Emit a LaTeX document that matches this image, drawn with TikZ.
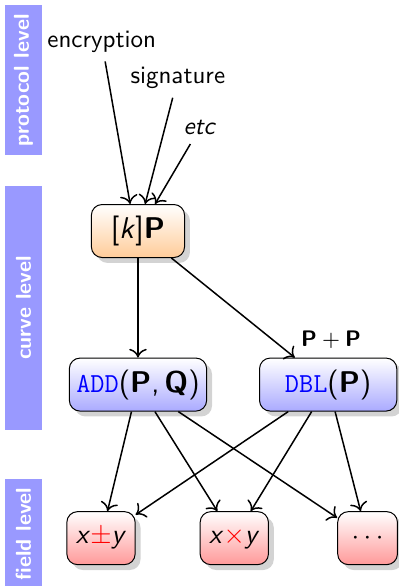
\documentclass[tikz,border=0pt]{standalone}
\usepackage{fontspec}
\usepackage{xcolor}
\definecolor{levelBar}{HTML}{9999FF}
\definecolor{mulBottom}{HTML}{FFCC99}
\definecolor{curveBottom}{HTML}{AAAAFF}
\definecolor{fieldBottom}{HTML}{FF9999}
\usepackage{tikz}
\usetikzlibrary{arrows.meta,positioning,shadows,calc}
\tikzset{
    levelbar/.style={
        fill=levelBar,
        rectangle,
        rotate=90,
        inner sep=0pt,
        minimum height=0.52cm,
        text=white,
        font=\fontsize{8.6}{10}\selectfont\bfseries\sffamily
    },
    opbox/.style={
        draw=black,
        rectangle,
        rounded corners=1.5mm,
        align=center,
        inner sep=2pt,
        minimum height=0.745cm,
        top color=white,
        drop shadow={opacity=0.35},
        font=\large\sffamily
    },
    mulbox/.style={
        opbox,
        bottom color=mulBottom,
        minimum width=1.31cm
    },
    curvebox/.style={
        opbox,
        bottom color=curveBottom,
        minimum width=1.93cm
    },
    fieldbox/.style={
        opbox,
        bottom color=fieldBottom,
        minimum width=0.96cm,
        font=\fontsize{11}{13}\selectfont\sffamily
    },
    arrow/.style={
        ->,
        >={To[length=3.5pt,width=7pt]},
        semithick,
        color=black
    },
    proto/.style={
        font=\sffamily
    }
}
\newcommand{\opname}[1]{{\fontsize{11}{13}\selectfont\texttt{\color{blue}#1}}}

\begin{document}
\begin{tikzpicture}
    \useasboundingbox (-1.94,3.248) rectangle (3.656,-4.991);

    % Level bars on the left
    \node[levelbar, minimum width=2.11cm] (protobar) at (-1.61,2.12) {protocol level};
    \node[levelbar, minimum width=3.44cm] (curvebar) at (-1.61,-1.08) {curve level};
    \node[levelbar, minimum width=1.56cm] (fieldbar) at (-1.61,-4.26) {field level};

    % Scalar multiplication
    \node[mulbox] (kp) at (0,0) {[\textit{k}]\textbf{P}};

    % Protocols
    \node[proto] (enc) at (-0.51,2.66) {encryption};
    \node[proto] (sig) at (0.56,2.15) {signature};
    \node[proto] (etc) at (0.87,1.45) {\textit{etc}};

    % Curve operations
    \node[curvebox, below=1.4cm of kp] (add) {\opname{ADD}(\textbf{P},\,\textbf{Q})};
    \node[curvebox, right=0.73cm of add] (dbl) {\opname{DBL}(\textbf{P})};
    \node[font=\small\sffamily, above=0pt of dbl, xshift=0.04cm] (pplbl) {\textbf{P}$\:+\:$\textbf{P}};

    % Field operations
    \node[fieldbox, below=1.4cm of add, xshift=-0.52cm] (xpm) {\textit{x}\textcolor{red}{$\pm$}\textit{y}};
    \node[fieldbox, right=0.9cm of xpm] (xtimes) {\textit{x}\textcolor{red}{$\times$}\textit{y}};
    \node[fieldbox, right=0.96cm of xtimes, minimum width=0.84cm] (dots) {$\cdots$};

    % Arrows
    \draw[arrow] (enc) -- ([xshift=-0.11cm]kp.north);
    \draw[arrow] (sig) -- ([xshift=0.1cm]kp.north);
    \draw[arrow] (etc) -- ([xshift=0.24cm]kp.north);
    \draw[arrow] (kp) -- (add);
    \draw[arrow] (kp) -- (dbl);
    \draw[arrow] (add) -- (xpm);
    \draw[arrow] (add) -- (xtimes);
    \draw[arrow] (add) -- (dots);
    \draw[arrow] (dbl) -- (xpm);
    \draw[arrow] (dbl) -- (xtimes);
    \draw[arrow] (dbl) -- (dots);
\end{tikzpicture}
\end{document}
